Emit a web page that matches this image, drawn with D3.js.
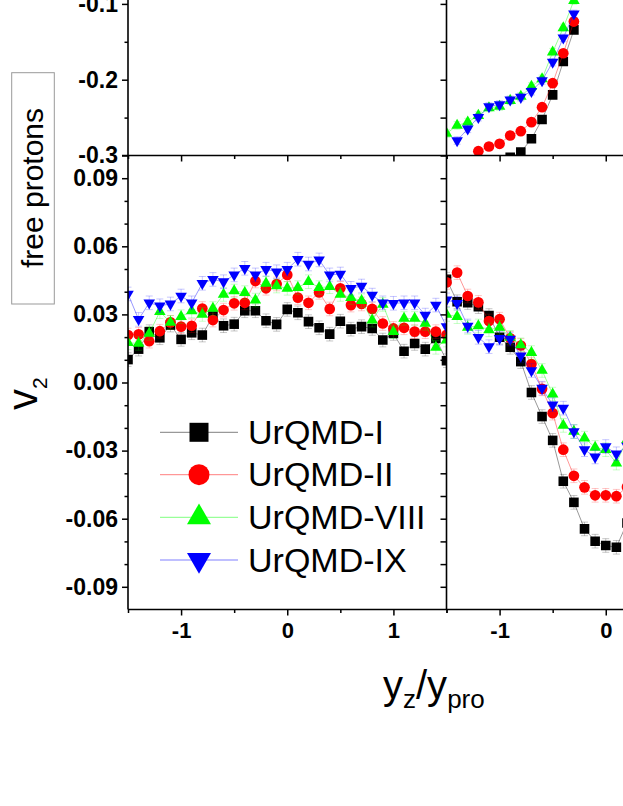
<!DOCTYPE html>
<html>
<head>
<meta charset="utf-8">
<script src="https://cdn.jsdelivr.net/npm/d3@7"></script>
<style>
  body { margin: 0; background: #fff; }
  svg { display: block; }
  text { font-family: "Liberation Sans", Arial, sans-serif; }
</style>
</head>
<body>
<div id="chart"></div>
<script>
// ---- data ----
const seriesNames = ['UrQMD-I', 'UrQMD-II', 'UrQMD-VIII', 'UrQMD-IX'];
const seriesColors = ['#000000', '#ff0000', '#00ff00', '#0000ff'];

// bottom left panel: v2 of free protons
const xLeft = [-1.5,-1.4,-1.3,-1.2,-1.1,-1.0,-0.9,-0.8,-0.7,-0.6,-0.5,-0.4,-0.3,-0.2,-0.1,0,
               0.1,0.2,0.3,0.4,0.5,0.6,0.7,0.8,0.9,1.0,1.1,1.2,1.3,1.4,1.5];
const v2LeftI    = [0.0101,0.0147,0.0224,0.0197,0.0253,0.0190,0.0219,0.0209,0.0293,0.0250,0.0257,0.0316,0.0316,0.0272,0.0256,0.0322,
                    0.0307,0.0268,0.0241,0.0213,0.0270,0.0235,0.0246,0.0238,0.0187,0.0216,0.0138,0.0172,0.0147,0.0194,0.0096];
const v2LeftII   = [0.0209,0.0212,0.0182,0.0226,0.0265,0.0246,0.0250,0.0326,0.0275,0.0319,0.0349,0.0351,0.0447,0.0415,0.0434,0.0474,
                    0.0374,0.0351,0.0397,0.0324,0.0415,0.0341,0.0346,0.0324,0.0260,0.0238,0.0241,0.0224,0.0224,0.0224,0.0210];
const v2LeftVIII = [0.0175,0.0172,0.0216,0.0312,0.0265,0.0290,0.0315,0.0300,0.0326,0.0388,0.0403,0.0396,0.0363,0.0437,0.0425,0.0415,
                    0.0418,0.0444,0.0418,0.0422,0.0388,0.0374,0.0360,0.0275,0.0344,0.0224,0.0282,0.0282,0.0260,0.0155,0.0187];
const v2LeftIX   = [0.0390,0.0278,0.0351,0.0338,0.0346,0.0381,0.0351,0.0437,0.0454,0.0444,0.0474,0.0503,0.0474,0.0499,0.0488,0.0499,
                    0.0543,0.0522,0.0540,0.0474,0.0478,0.0415,0.0425,0.0385,0.0351,0.0349,0.0351,0.0351,0.0297,0.0341,0.0246];

// bottom right panel (only the visible part)
const xRight = [-1.5,-1.4,-1.3,-1.2,-1.1,-1.0,-0.9,-0.8,-0.7,-0.6,-0.5,-0.4,-0.3,-0.2,-0.1,0,0.1,0.2];
const v2RightI    = [0.0455,0.0356,0.0352,0.0334,0.0295,0.0199,0.0155,0.0092,-0.0044,-0.0150,-0.0255,-0.0435,-0.0528,-0.0645,-0.0699,-0.0718,-0.0726,-0.0619];
const v2RightII   = [0.0441,0.0484,0.0381,0.0353,0.0271,0.0279,0.0195,0.0163,0.0081,-0.0028,-0.0135,-0.0296,-0.0411,-0.0462,-0.0497,-0.0497,-0.0501,-0.0460];
const v2RightVIII = [0.0300,0.0290,0.0243,0.0249,0.0232,0.0243,0.0199,0.0166,0.0132,0.0053,-0.0051,-0.0189,-0.0216,-0.0245,-0.0286,-0.0296,-0.0355,-0.0252];
const v2RightIX   = [0.0364,0.0349,0.0249,0.0199,0.0158,0.0195,0.0191,0.0117,0.0053,-0.0025,-0.0098,-0.0113,-0.0216,-0.0296,-0.0328,-0.0282,-0.0314,-0.0280];

// top right panel (only the visible part)
const xTopI    = [-0.9,-0.8,-0.7,-0.6,-0.5,-0.4,-0.3];
const vTopI    = [-0.3025,-0.2956,-0.2780,-0.2525,-0.2200,-0.1760,-0.1343];
const xTopII   = [-1.2,-1.1,-1.0,-0.9,-0.8,-0.7,-0.6,-0.5,-0.4,-0.3];
const vTopII   = [-0.2943,-0.2881,-0.2846,-0.2736,-0.2679,-0.2560,-0.2363,-0.2046,-0.1651,-0.1233];
const xTopVIII = [-1.5,-1.4,-1.3,-1.2,-1.1,-1.0,-0.9,-0.8,-0.7,-0.6,-0.5,-0.4,-0.3];
const vTopVIII = [-0.2710,-0.2604,-0.2560,-0.2473,-0.2371,-0.2354,-0.2275,-0.2222,-0.2090,-0.1989,-0.1637,-0.1316,-0.0956];
const xTopIX   = [-1.4,-1.3,-1.2,-1.1,-1.0,-0.9,-0.8,-0.7,-0.6,-0.5,-0.4,-0.3];
const vTopIX   = [-0.2802,-0.2648,-0.2495,-0.2354,-0.2327,-0.2266,-0.2231,-0.2152,-0.2011,-0.1769,-0.1448,-0.1132];

const yTicksBottom = [-0.09,-0.06,-0.03,0,0.03,0.06,0.09];
const yMinorBottom = [-0.08,-0.07,-0.05,-0.04,-0.02,-0.01,0.01,0.02,0.04,0.05,0.07,0.08];
const yTicksTop = [-0.3,-0.2,-0.1];
const yMinorTop = [-0.25,-0.15];
const xTicks = [-1,0,1];
const xMinor = [-1.5,-0.5,0.5,1.5];

// ---- layout ----
const W = 623, H = 806;
const svg = d3.select('#chart').append('svg').attr('width', W).attr('height', H);

const xL = d3.scaleLinear().domain([-1.5, 1.5]).range([128, 446.5]);
const xR = d3.scaleLinear().domain([-1.5, 1.5]).range([446.5, 765]);
const yB = d3.scaleLinear().domain([-0.1, 0.1]).range([609.5, 155.5]);
const yT = d3.scaleLinear().domain([-0.3, 0.3]).range([155.5, -299.3]);

const symbols = [d3.symbolSquare, d3.symbolCircle, d3.symbolTriangle, d3.symbolTriangle];
const plotSizes = [92, 90, 58, 58];
const legendSizes = [361, 346, 249, 249];

function marker(sel, i, size) {
  sel.attr('d', d3.symbol().type(symbols[i]).size(size))
    .attr('fill', seriesColors[i]);
}

let clipId = 0;
function panel(x, y, series, err) {
  const id = 'clip' + (clipId++);
  const [x0, x1] = x.range();
  const [y0, y1] = y.range();
  svg.append('clipPath').attr('id', id).append('rect')
    .attr('x', x0).attr('y', y1).attr('width', x1 - x0).attr('height', y0 - y1);
  const g = svg.append('g').attr('clip-path', `url(#${id})`);

  series.forEach((s, i) => {
    const pts = s.xs.map((xv, k) => [xv, s.vs[k]]);
    const sg = g.append('g');
    // thin connecting line
    sg.append('path')
      .attr('d', d3.line().x(d => x(d[0])).y(d => y(d[1]))(pts))
      .attr('fill', 'none')
      .attr('stroke', seriesColors[i])
      .attr('stroke-opacity', 0.45)
      .attr('stroke-width', 0.9);
    // error bars
    const eb = sg.selectAll('.eb').data(pts).enter().append('g')
      .attr('stroke', seriesColors[i]).attr('stroke-opacity', 0.25).attr('stroke-width', 0.9);
    eb.append('line')
      .attr('x1', d => x(d[0])).attr('x2', d => x(d[0]))
      .attr('y1', d => y(d[1] - err)).attr('y2', d => y(d[1] + err));
    eb.append('line')
      .attr('x1', d => x(d[0]) - 3.5).attr('x2', d => x(d[0]) + 3.5)
      .attr('y1', d => y(d[1] + err)).attr('y2', d => y(d[1] + err));
    eb.append('line')
      .attr('x1', d => x(d[0]) - 3.5).attr('x2', d => x(d[0]) + 3.5)
      .attr('y1', d => y(d[1] - err)).attr('y2', d => y(d[1] - err));
    // markers
    sg.selectAll('.m').data(pts).enter().append('path')
      .attr('transform', d => `translate(${x(d[0])},${y(d[1])})` + (i === 3 ? ' rotate(180)' : ''))
      .call(marker, i, plotSizes[i]);
  });
}

panel(xL, yB, [
  { xs: xLeft, vs: v2LeftI }, { xs: xLeft, vs: v2LeftII },
  { xs: xLeft, vs: v2LeftVIII }, { xs: xLeft, vs: v2LeftIX }
], 0.003);
panel(xR, yB, [
  { xs: xRight, vs: v2RightI }, { xs: xRight, vs: v2RightII },
  { xs: xRight, vs: v2RightVIII }, { xs: xRight, vs: v2RightIX }
], 0.003);
panel(xR, yT, [
  { xs: xTopI, vs: vTopI }, { xs: xTopII, vs: vTopII },
  { xs: xTopVIII, vs: vTopVIII }, { xs: xTopIX, vs: vTopIX }
], 0.005);

// ---- axes ----
function styleAxis(g) {
  g.select('.domain').remove();
  g.selectAll('.tick line').attr('stroke', '#000').attr('stroke-width', 1.5);
}
const bold = g => g.selectAll('text').attr('font-weight', 'bold').attr('fill', '#000');

// left y axis, bottom panel
svg.append('g').attr('transform', 'translate(128,0)')
  .call(d3.axisLeft(yB).tickValues(yTicksBottom).tickSize(6).tickPadding(4)
    .tickFormat(d => d.toFixed(2)))
  .call(styleAxis).call(bold)
  .selectAll('text').attr('font-size', 23);
svg.append('g').attr('transform', 'translate(128,0)')
  .call(d3.axisLeft(yB).tickValues(yMinorBottom).tickSize(3.5).tickFormat(''))
  .call(styleAxis);

// left y axis, top panel
svg.append('g').attr('transform', 'translate(128,0)')
  .call(d3.axisLeft(yT).tickValues(yTicksTop).tickSize(6).tickPadding(4)
    .tickFormat(d => d.toFixed(1)))
  .call(styleAxis).call(bold)
  .selectAll('text').attr('font-size', 23);
svg.append('g').attr('transform', 'translate(128,0)')
  .call(d3.axisLeft(yT).tickValues(yMinorTop).tickSize(3.5).tickFormat(''))
  .call(styleAxis);

// shared boundary x = 446.5 : right panels' left axes
svg.append('g').attr('transform', 'translate(446.5,0)')
  .call(d3.axisLeft(yB).tickValues(yTicksBottom.concat(yMinorBottom)).tickSize(6).tickFormat(''))
  .call(styleAxis);
svg.append('g').attr('transform', 'translate(446.5,0)')
  .call(d3.axisLeft(yT).tickValues(yTicksTop.concat(yMinorTop)).tickSize(6).tickFormat(''))
  .call(styleAxis);

// bottom x axes (labels only where they fall inside the picture)
[xL, xR].forEach(x => {
  svg.append('g').attr('transform', 'translate(0,609.5)')
    .call(d3.axisBottom(x).tickValues(xTicks.filter(v => x(v) < W - 5)).tickSize(6).tickPadding(7)
      .tickFormat(d => d < 0 ? '-' + Math.abs(d) : String(d)))
    .call(styleAxis).call(bold)
    .selectAll('text').attr('font-size', 22);
  svg.append('g').attr('transform', 'translate(0,609.5)')
    .call(d3.axisBottom(x).tickValues(xMinor).tickSize(3.5).tickFormat(''))
    .call(styleAxis);
  // ticks on the panel boundary y = 155.5, pointing down
  svg.append('g').attr('transform', 'translate(0,155.5)')
    .call(d3.axisTop(x).tickValues(xTicks).tickSize(-6).tickFormat(''))
    .call(styleAxis);
  svg.append('g').attr('transform', 'translate(0,155.5)')
    .call(d3.axisTop(x).tickValues(xMinor).tickSize(-3.5).tickFormat(''))
    .call(styleAxis);
});

// frame lines
const frame = svg.append('g').attr('stroke', '#000').attr('stroke-width', 1.6).attr('fill', 'none');
frame.append('line').attr('x1', 128).attr('x2', 128).attr('y1', -10).attr('y2', 609.5);
frame.append('line').attr('x1', 446.5).attr('x2', 446.5).attr('y1', -10).attr('y2', 609.5);
frame.append('line').attr('x1', 122).attr('x2', W + 5).attr('y1', 155.5).attr('y2', 155.5);
frame.append('line').attr('x1', 128).attr('x2', W + 5).attr('y1', 609.5).attr('y2', 609.5);

// ---- legend ----
const legendY = [432.3, 474.7, 517.3, 560];
const lg = svg.append('g');
seriesNames.forEach((name, i) => {
  const row = lg.append('g').attr('transform', `translate(0,${legendY[i]})`);
  row.append('line').attr('x1', 160).attr('x2', 238).attr('y1', 0).attr('y2', 0)
    .attr('stroke', seriesColors[i]).attr('stroke-opacity', 0.5).attr('stroke-width', 1);
  row.append('path')
    .attr('transform', 'translate(199,0)' + (i === 3 ? ' rotate(180)' : ''))
    .call(marker, i, legendSizes[i]);
  row.append('text').attr('x', 248).attr('y', 11.5)
    .attr('font-size', 34).attr('fill', '#000').text(name);
});

// ---- titles ----
const xt = svg.append('text').attr('x', 383).attr('y', 699).attr('font-size', 40).attr('fill', '#000');
xt.append('tspan').text('y');
xt.append('tspan').attr('font-size', 26).attr('dy', 9).text('z');
xt.append('tspan').attr('dy', -9).text('/y');
xt.append('tspan').attr('font-size', 26).attr('dy', 9).text('pro');

const yt = svg.append('text').attr('transform', 'translate(37,410) rotate(-90)')
  .attr('font-size', 42).attr('fill', '#000');
yt.append('tspan').text('v');
yt.append('tspan').attr('font-size', 21).attr('dy', 10).text('2');

svg.append('rect').attr('x', 11.7).attr('y', 72.7).attr('width', 42.6).attr('height', 231.3)
  .attr('fill', 'none').attr('stroke', '#999').attr('stroke-width', 1);
svg.append('text').attr('transform', 'translate(43,188) rotate(-90)')
  .attr('text-anchor', 'middle').attr('font-size', 30).attr('fill', '#000').text('free protons');
</script>
</body>
</html>
